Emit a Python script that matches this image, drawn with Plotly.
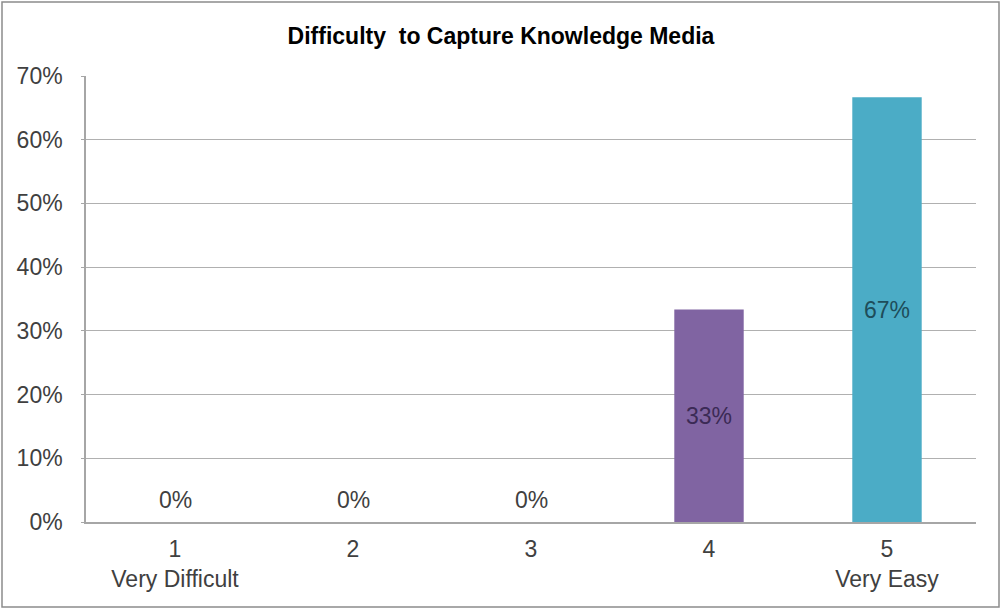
import plotly.graph_objects as go

categories = ["1<br>Very Difficult", "2", "3", "4", "5<br>Very Easy"]
values = [0.0, 0.0, 0.0, 1/3, 2/3]
bar_colors = ["#4F81BD", "#C0504D", "#9BBB59", "#8064A2", "#4BACC6"]
label_colors = ["#404040", "#404040", "#404040", "#3B2A55", "#1E4D5A"]
y_ticks = [0, 0.1, 0.2, 0.3, 0.4, 0.5, 0.6, 0.7]
y_tick_labels = ["0%", "10%", "20%", "30%", "40%", "50%", "60%", "70%"]
title_text = "<b>Difficulty  to Capture Knowledge Media</b>"

FONT = "Arial, Liberation Sans, sans-serif"
FS = 23
W, H = 1002, 610
ml, mr, mt, mb = 86, 26, 76, 88

labels = [f"{round(v*100)}%" for v in values]
inside_text = [lab if v > 0 else "" for lab, v in zip(labels, values)]

fig = go.Figure()
fig.add_trace(go.Bar(
    x=categories,
    y=values,
    marker=dict(color=bar_colors, line=dict(width=0)),
    text=inside_text,
    textposition="inside",
    insidetextanchor="middle",
    textangle=0,
    insidetextfont=dict(family=FONT, size=FS, color=label_colors),
    hoverinfo="skip",
))

# labels for zero-height bars, sitting just above the baseline
for i, (v, lab, col) in enumerate(zip(values, labels, label_colors)):
    if v == 0:
        fig.add_annotation(x=i, y=v, text=lab, showarrow=False,
                           yanchor="middle", yshift=22,
                           font=dict(family=FONT, size=FS, color=col))

pw = W - ml - mr
ph = H - mt - mb
fig.update_layout(
    width=W, height=H,
    margin=dict(l=ml, r=mr, t=mt, b=mb, autoexpand=False),
    paper_bgcolor="white",
    plot_bgcolor="white",
    showlegend=False,
    bargap=0.61,
    uniformtext=dict(minsize=FS, mode="show"),
    title=dict(text=title_text, x=0.5, xanchor="center", xref="container",
               y=1 - 36/H, yanchor="middle",
               font=dict(family=FONT, size=23, color="#000000")),
    xaxis=dict(
        type="category",
        automargin=False,
        showgrid=False,
        showline=True, linecolor="#A6A6A6", linewidth=1.5,
        ticks="", tickfont=dict(family=FONT, size=FS, color="#404040"),
        ticklabelstandoff=6,
    ),
    yaxis=dict(
        range=[0, 0.7],
        automargin=False,
        tickvals=y_ticks, ticktext=y_tick_labels,
        showgrid=True, gridcolor="#B0B0B0", gridwidth=1,
        showline=True, linecolor="#A6A6A6", linewidth=1.5,
        ticks="outside", ticklen=3, tickcolor="#A6A6A6",
        tickfont=dict(family=FONT, size=FS, color="#404040"),
        ticklabelstandoff=14,
        zeroline=False,
    ),
    shapes=[dict(
        type="rect", xref="paper", yref="paper",
        x0=(2 - ml) / pw, x1=1 + (mr - 3) / pw,
        y0=-(mb - 3) / ph, y1=1 + (mt - 2) / ph,
        line=dict(color="#8C8C8C", width=1.5), fillcolor="rgba(0,0,0,0)",
        layer="below",
    )],
)

fig.write_html("out.html", config={"displayModeBar": False},
               post_script="document.body.style.margin='0';")
